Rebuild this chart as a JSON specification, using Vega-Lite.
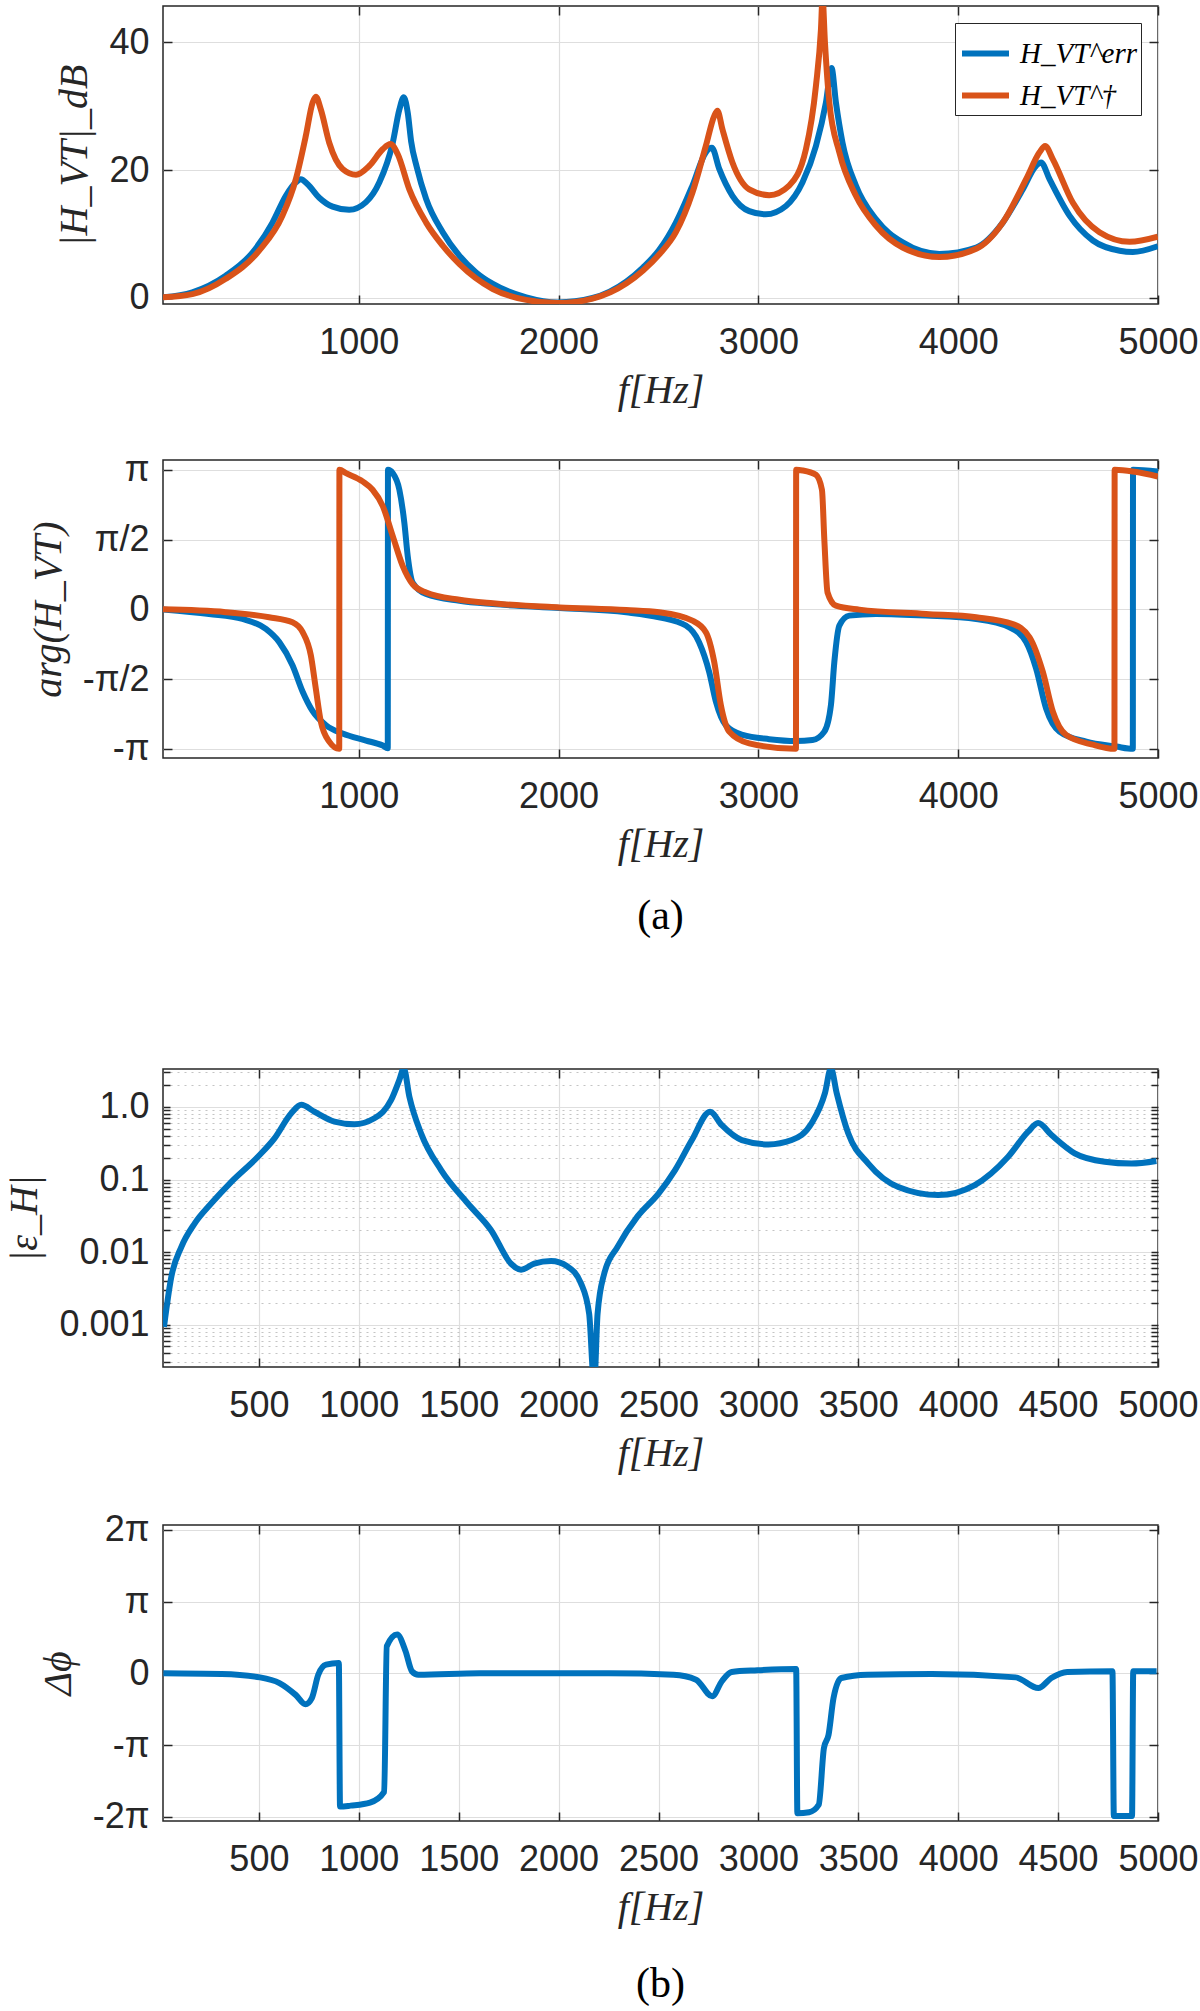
{
  "$schema": "https://vega.github.io/schema/vega-lite/v6.json",
  "background": "white",
  "padding": {"left": 4, "top": 4, "right": 0, "bottom": 0},
  "config": {
    "view": {"stroke": "#262626", "strokeWidth": 1.5},
    "axis": {
      "labelFont": "Liberation Sans",
      "labelFontSize": 36,
      "labelColor": "#262626",
      "labelOverlap": false,
      "labelFlush": false,
      "titleFont": "Liberation Serif",
      "titleFontStyle": "italic",
      "titleFontWeight": "normal",
      "titleFontSize": 40,
      "titleColor": "#262626",
      "gridColor": "#dedede",
      "gridWidth": 1.2,
      "domain": false,
      "tickColor": "#262626",
      "tickWidth": 1.5,
      "tickSize": -9
    },
    "axisX": {"labelPadding": 30, "titlePadding": 10, "format": "d"},
    "axisY": {"labelPadding": 23, "titlePadding": 14},
    "line": {"strokeWidth": 6, "interpolate": "monotone"},
    "legend": {
      "orient": "top-right",
      "offset": 17,
      "padding": 4,
      "strokeColor": "#262626",
      "fillColor": "white",
      "labelFont": "Liberation Serif",
      "labelFontStyle": "italic",
      "labelFontSize": 29,
      "labelColor": "#000000",
      "labelLimit": 300,
      "symbolType": "stroke",
      "symbolStrokeWidth": 6,
      "symbolSize": 2209,
      "rowPadding": 0,
      "labelOffset": 8
    },
    "title": {"font": "Liberation Serif", "fontSize": 42, "fontWeight": "normal", "color": "#000000"}
  },
  "datasets": {
    "mag": [
      {"f": 17, "series": "H_VT^err", "value": 0.1},
      {"f": 167, "series": "H_VT^err", "value": 0.9},
      {"f": 334, "series": "H_VT^err", "value": 3.5},
      {"f": 468, "series": "H_VT^err", "value": 7.1},
      {"f": 568, "series": "H_VT^err", "value": 11.8},
      {"f": 635, "series": "H_VT^err", "value": 16.0},
      {"f": 685, "series": "H_VT^err", "value": 18.1},
      {"f": 710, "series": "H_VT^err", "value": 18.6},
      {"f": 744, "series": "H_VT^err", "value": 17.8},
      {"f": 802, "series": "H_VT^err", "value": 15.7},
      {"f": 869, "series": "H_VT^err", "value": 14.3},
      {"f": 952, "series": "H_VT^err", "value": 13.8},
      {"f": 1036, "series": "H_VT^err", "value": 15.0},
      {"f": 1103, "series": "H_VT^err", "value": 18.1},
      {"f": 1170, "series": "H_VT^err", "value": 24.3},
      {"f": 1203, "series": "H_VT^err", "value": 29.5},
      {"f": 1225, "series": "H_VT^err", "value": 31.4},
      {"f": 1245, "series": "H_VT^err", "value": 29.0},
      {"f": 1262, "series": "H_VT^err", "value": 24.5},
      {"f": 1290, "series": "H_VT^err", "value": 20.5},
      {"f": 1337, "series": "H_VT^err", "value": 15.5},
      {"f": 1420, "series": "H_VT^err", "value": 10.3},
      {"f": 1504, "series": "H_VT^err", "value": 6.6},
      {"f": 1587, "series": "H_VT^err", "value": 4.0},
      {"f": 1671, "series": "H_VT^err", "value": 2.2},
      {"f": 1838, "series": "H_VT^err", "value": 0.1},
      {"f": 1995, "series": "H_VT^err", "value": -0.7},
      {"f": 2170, "series": "H_VT^err", "value": 0.0},
      {"f": 2340, "series": "H_VT^err", "value": 2.6},
      {"f": 2423, "series": "H_VT^err", "value": 4.8},
      {"f": 2503, "series": "H_VT^err", "value": 7.5},
      {"f": 2587, "series": "H_VT^err", "value": 11.8},
      {"f": 2670, "series": "H_VT^err", "value": 17.6},
      {"f": 2737, "series": "H_VT^err", "value": 22.8},
      {"f": 2767, "series": "H_VT^err", "value": 23.5},
      {"f": 2804, "series": "H_VT^err", "value": 20.2},
      {"f": 2870, "series": "H_VT^err", "value": 16.0},
      {"f": 2954, "series": "H_VT^err", "value": 13.6},
      {"f": 3037, "series": "H_VT^err", "value": 13.1},
      {"f": 3138, "series": "H_VT^err", "value": 14.4},
      {"f": 3221, "series": "H_VT^err", "value": 18.1},
      {"f": 3288, "series": "H_VT^err", "value": 23.8},
      {"f": 3338, "series": "H_VT^err", "value": 30.6},
      {"f": 3366, "series": "H_VT^err", "value": 36.0},
      {"f": 3388, "series": "H_VT^err", "value": 30.6},
      {"f": 3421, "series": "H_VT^err", "value": 24.3},
      {"f": 3488, "series": "H_VT^err", "value": 17.6},
      {"f": 3589, "series": "H_VT^err", "value": 12.3},
      {"f": 3722, "series": "H_VT^err", "value": 8.7},
      {"f": 3906, "series": "H_VT^err", "value": 6.9},
      {"f": 4090, "series": "H_VT^err", "value": 7.9},
      {"f": 4223, "series": "H_VT^err", "value": 11.8},
      {"f": 4323, "series": "H_VT^err", "value": 17.0},
      {"f": 4390, "series": "H_VT^err", "value": 20.7},
      {"f": 4415, "series": "H_VT^err", "value": 21.2},
      {"f": 4457, "series": "H_VT^err", "value": 18.6},
      {"f": 4557, "series": "H_VT^err", "value": 12.9},
      {"f": 4674, "series": "H_VT^err", "value": 9.0},
      {"f": 4808, "series": "H_VT^err", "value": 7.4},
      {"f": 4874, "series": "H_VT^err", "value": 7.2},
      {"f": 4999, "series": "H_VT^err", "value": 8.1},
      {"f": 17, "series": "H_VT^†", "value": 0.1},
      {"f": 167, "series": "H_VT^†", "value": 0.6},
      {"f": 334, "series": "H_VT^†", "value": 3.0},
      {"f": 501, "series": "H_VT^†", "value": 7.4},
      {"f": 618, "series": "H_VT^†", "value": 12.9},
      {"f": 685, "series": "H_VT^†", "value": 18.6},
      {"f": 735, "series": "H_VT^†", "value": 25.4},
      {"f": 769, "series": "H_VT^†", "value": 30.6},
      {"f": 785, "series": "H_VT^†", "value": 31.5},
      {"f": 810, "series": "H_VT^†", "value": 29.5},
      {"f": 852, "series": "H_VT^†", "value": 24.3},
      {"f": 919, "series": "H_VT^†", "value": 20.2},
      {"f": 986, "series": "H_VT^†", "value": 19.3},
      {"f": 1053, "series": "H_VT^†", "value": 20.7},
      {"f": 1120, "series": "H_VT^†", "value": 23.3},
      {"f": 1158, "series": "H_VT^†", "value": 24.1},
      {"f": 1195, "series": "H_VT^†", "value": 22.5},
      {"f": 1253, "series": "H_VT^†", "value": 17.0},
      {"f": 1337, "series": "H_VT^†", "value": 11.8},
      {"f": 1420, "series": "H_VT^†", "value": 8.2},
      {"f": 1504, "series": "H_VT^†", "value": 5.3},
      {"f": 1671, "series": "H_VT^†", "value": 1.4},
      {"f": 1838, "series": "H_VT^†", "value": -0.3},
      {"f": 1997, "series": "H_VT^†", "value": -0.8},
      {"f": 2170, "series": "H_VT^†", "value": -0.1},
      {"f": 2340, "series": "H_VT^†", "value": 2.3},
      {"f": 2423, "series": "H_VT^†", "value": 4.3},
      {"f": 2503, "series": "H_VT^†", "value": 6.8},
      {"f": 2587, "series": "H_VT^†", "value": 10.3},
      {"f": 2670, "series": "H_VT^†", "value": 16.5},
      {"f": 2737, "series": "H_VT^†", "value": 23.8},
      {"f": 2779, "series": "H_VT^†", "value": 28.5},
      {"f": 2795, "series": "H_VT^†", "value": 29.3},
      {"f": 2820, "series": "H_VT^†", "value": 26.4},
      {"f": 2870, "series": "H_VT^†", "value": 21.2},
      {"f": 2954, "series": "H_VT^†", "value": 17.0},
      {"f": 3054, "series": "H_VT^†", "value": 16.1},
      {"f": 3154, "series": "H_VT^†", "value": 17.6},
      {"f": 3238, "series": "H_VT^†", "value": 23.3},
      {"f": 3288, "series": "H_VT^†", "value": 33.2},
      {"f": 3313, "series": "H_VT^†", "value": 42.0},
      {"f": 3321, "series": "H_VT^†", "value": 47.0},
      {"f": 3333, "series": "H_VT^†", "value": 40.0},
      {"f": 3355, "series": "H_VT^†", "value": 30.6},
      {"f": 3405, "series": "H_VT^†", "value": 22.8},
      {"f": 3488, "series": "H_VT^†", "value": 16.0},
      {"f": 3589, "series": "H_VT^†", "value": 11.3},
      {"f": 3722, "series": "H_VT^†", "value": 7.9},
      {"f": 3906, "series": "H_VT^†", "value": 6.4},
      {"f": 4090, "series": "H_VT^†", "value": 7.7},
      {"f": 4223, "series": "H_VT^†", "value": 11.8},
      {"f": 4340, "series": "H_VT^†", "value": 18.6},
      {"f": 4407, "series": "H_VT^†", "value": 22.8},
      {"f": 4435, "series": "H_VT^†", "value": 23.8},
      {"f": 4474, "series": "H_VT^†", "value": 21.7},
      {"f": 4574, "series": "H_VT^†", "value": 14.9},
      {"f": 4707, "series": "H_VT^†", "value": 10.3},
      {"f": 4858, "series": "H_VT^†", "value": 8.8},
      {"f": 4999, "series": "H_VT^†", "value": 9.6}
    ],
    "phase": [
      {"f": 17, "series": "H_VT^err", "value": 0},
      {"f": 251, "series": "H_VT^err", "value": -0.104},
      {"f": 418, "series": "H_VT^err", "value": -0.217},
      {"f": 535, "series": "H_VT^err", "value": -0.44},
      {"f": 602, "series": "H_VT^err", "value": -0.738},
      {"f": 668, "series": "H_VT^err", "value": -1.257},
      {"f": 719, "series": "H_VT^err", "value": -1.854},
      {"f": 769, "series": "H_VT^err", "value": -2.293},
      {"f": 836, "series": "H_VT^err", "value": -2.608},
      {"f": 919, "series": "H_VT^err", "value": -2.796},
      {"f": 1036, "series": "H_VT^err", "value": -2.953},
      {"f": 1120, "series": "H_VT^err", "value": -3.066},
      {"f": 1145, "series": "H_VT^err", "value": -3.126},
      {"f": 1146, "series": "H_VT^err", "value": 3.14},
      {"f": 1170, "series": "H_VT^err", "value": 3.066},
      {"f": 1203, "series": "H_VT^err", "value": 2.692},
      {"f": 1228, "series": "H_VT^err", "value": 1.948},
      {"f": 1245, "series": "H_VT^err", "value": 1.194},
      {"f": 1270, "series": "H_VT^err", "value": 0.597},
      {"f": 1337, "series": "H_VT^err", "value": 0.346},
      {"f": 1504, "series": "H_VT^err", "value": 0.195},
      {"f": 1671, "series": "H_VT^err", "value": 0.119},
      {"f": 2005, "series": "H_VT^err", "value": 0.031},
      {"f": 2339, "series": "H_VT^err", "value": -0.066},
      {"f": 2503, "series": "H_VT^err", "value": -0.179},
      {"f": 2637, "series": "H_VT^err", "value": -0.364},
      {"f": 2703, "series": "H_VT^err", "value": -0.738},
      {"f": 2754, "series": "H_VT^err", "value": -1.414},
      {"f": 2787, "series": "H_VT^err", "value": -2.073},
      {"f": 2837, "series": "H_VT^err", "value": -2.608},
      {"f": 2921, "series": "H_VT^err", "value": -2.827},
      {"f": 3054, "series": "H_VT^err", "value": -2.922},
      {"f": 3188, "series": "H_VT^err", "value": -2.963},
      {"f": 3271, "series": "H_VT^err", "value": -2.941},
      {"f": 3330, "series": "H_VT^err", "value": -2.752},
      {"f": 3363, "series": "H_VT^err", "value": -2.155},
      {"f": 3380, "series": "H_VT^err", "value": -1.188},
      {"f": 3405, "series": "H_VT^err", "value": -0.364},
      {"f": 3455, "series": "H_VT^err", "value": -0.141},
      {"f": 3589, "series": "H_VT^err", "value": -0.104},
      {"f": 3839, "series": "H_VT^err", "value": -0.141},
      {"f": 4090, "series": "H_VT^err", "value": -0.217},
      {"f": 4257, "series": "H_VT^err", "value": -0.402},
      {"f": 4340, "series": "H_VT^err", "value": -0.738},
      {"f": 4390, "series": "H_VT^err", "value": -1.335},
      {"f": 4440, "series": "H_VT^err", "value": -2.231},
      {"f": 4507, "series": "H_VT^err", "value": -2.752},
      {"f": 4641, "series": "H_VT^err", "value": -2.978},
      {"f": 4791, "series": "H_VT^err", "value": -3.088},
      {"f": 4874, "series": "H_VT^err", "value": -3.14},
      {"f": 4875, "series": "H_VT^err", "value": 3.14},
      {"f": 4999, "series": "H_VT^err", "value": 3.104},
      {"f": 17, "series": "H_VT^†", "value": 0},
      {"f": 334, "series": "H_VT^†", "value": -0.063},
      {"f": 551, "series": "H_VT^†", "value": -0.179},
      {"f": 668, "series": "H_VT^†", "value": -0.292},
      {"f": 719, "series": "H_VT^†", "value": -0.515},
      {"f": 760, "series": "H_VT^†", "value": -1.037},
      {"f": 785, "series": "H_VT^†", "value": -1.791},
      {"f": 810, "series": "H_VT^†", "value": -2.529},
      {"f": 852, "series": "H_VT^†", "value": -2.978},
      {"f": 902, "series": "H_VT^†", "value": -3.14},
      {"f": 903, "series": "H_VT^†", "value": 3.14},
      {"f": 936, "series": "H_VT^†", "value": 3.066},
      {"f": 1019, "series": "H_VT^†", "value": 2.881},
      {"f": 1069, "series": "H_VT^†", "value": 2.692},
      {"f": 1120, "series": "H_VT^†", "value": 2.325},
      {"f": 1170, "series": "H_VT^†", "value": 1.649},
      {"f": 1220, "series": "H_VT^†", "value": 0.974},
      {"f": 1270, "series": "H_VT^†", "value": 0.565},
      {"f": 1337, "series": "H_VT^†", "value": 0.38},
      {"f": 1504, "series": "H_VT^†", "value": 0.217},
      {"f": 1671, "series": "H_VT^†", "value": 0.135},
      {"f": 2005, "series": "H_VT^†", "value": 0.044},
      {"f": 2339, "series": "H_VT^†", "value": -0.016},
      {"f": 2503, "series": "H_VT^†", "value": -0.066},
      {"f": 2670, "series": "H_VT^†", "value": -0.254},
      {"f": 2737, "series": "H_VT^†", "value": -0.515},
      {"f": 2779, "series": "H_VT^†", "value": -1.188},
      {"f": 2812, "series": "H_VT^†", "value": -2.155},
      {"f": 2854, "series": "H_VT^†", "value": -2.752},
      {"f": 2954, "series": "H_VT^†", "value": -3.016},
      {"f": 3188, "series": "H_VT^†", "value": -3.14},
      {"f": 3189, "series": "H_VT^†", "value": 3.14},
      {"f": 3221, "series": "H_VT^†", "value": 3.126},
      {"f": 3288, "series": "H_VT^†", "value": 3.028},
      {"f": 3318, "series": "H_VT^†", "value": 2.692},
      {"f": 3330, "series": "H_VT^†", "value": 1.571},
      {"f": 3346, "series": "H_VT^†", "value": 0.38},
      {"f": 3388, "series": "H_VT^†", "value": 0.082},
      {"f": 3505, "series": "H_VT^†", "value": -0.006},
      {"f": 3839, "series": "H_VT^†", "value": -0.104},
      {"f": 4090, "series": "H_VT^†", "value": -0.179},
      {"f": 4273, "series": "H_VT^†", "value": -0.33},
      {"f": 4357, "series": "H_VT^†", "value": -0.628},
      {"f": 4424, "series": "H_VT^†", "value": -1.414},
      {"f": 4474, "series": "H_VT^†", "value": -2.306},
      {"f": 4540, "series": "H_VT^†", "value": -2.827},
      {"f": 4674, "series": "H_VT^†", "value": -3.047},
      {"f": 4782, "series": "H_VT^†", "value": -3.14},
      {"f": 4783, "series": "H_VT^†", "value": 3.14},
      {"f": 4999, "series": "H_VT^†", "value": 2.991}
    ],
    "eps": [
      {"f": 25, "value": 0.00093},
      {"f": 62, "value": 0.0046},
      {"f": 112, "value": 0.0118},
      {"f": 178, "value": 0.0247},
      {"f": 262, "value": 0.047},
      {"f": 362, "value": 0.093},
      {"f": 495, "value": 0.206},
      {"f": 578, "value": 0.369},
      {"f": 662, "value": 0.82},
      {"f": 712, "value": 1.07},
      {"f": 778, "value": 0.86},
      {"f": 878, "value": 0.63},
      {"f": 978, "value": 0.58},
      {"f": 1078, "value": 0.7},
      {"f": 1162, "value": 1.25},
      {"f": 1203, "value": 2.36},
      {"f": 1225, "value": 3.4},
      {"f": 1253, "value": 1.39},
      {"f": 1312, "value": 0.43},
      {"f": 1412, "value": 0.135},
      {"f": 1545, "value": 0.047},
      {"f": 1662, "value": 0.02},
      {"f": 1762, "value": 0.0069},
      {"f": 1812, "value": 0.0057},
      {"f": 1878, "value": 0.0069},
      {"f": 1962, "value": 0.0075},
      {"f": 2045, "value": 0.0063},
      {"f": 2112, "value": 0.0037},
      {"f": 2153, "value": 0.0014},
      {"f": 2178, "value": 0.00015},
      {"f": 2195, "value": 0.0014},
      {"f": 2228, "value": 0.005},
      {"f": 2295, "value": 0.0118},
      {"f": 2395, "value": 0.031},
      {"f": 2500, "value": 0.064},
      {"f": 2583, "value": 0.135},
      {"f": 2667, "value": 0.35},
      {"f": 2758, "value": 0.86},
      {"f": 2817, "value": 0.56},
      {"f": 2917, "value": 0.35},
      {"f": 3050, "value": 0.305},
      {"f": 3167, "value": 0.35},
      {"f": 3267, "value": 0.6},
      {"f": 3333, "value": 1.55},
      {"f": 3363, "value": 3.4},
      {"f": 3392, "value": 1.55},
      {"f": 3450, "value": 0.43},
      {"f": 3550, "value": 0.166},
      {"f": 3700, "value": 0.079},
      {"f": 3900, "value": 0.061},
      {"f": 4083, "value": 0.084},
      {"f": 4250, "value": 0.206},
      {"f": 4350, "value": 0.457},
      {"f": 4400, "value": 0.6},
      {"f": 4467, "value": 0.41},
      {"f": 4583, "value": 0.23},
      {"f": 4733, "value": 0.176},
      {"f": 4867, "value": 0.166},
      {"f": 4992, "value": 0.18}
    ],
    "dphi": [
      {"f": 22, "value": 0},
      {"f": 313, "value": -0.031},
      {"f": 506, "value": -0.176},
      {"f": 603, "value": -0.424},
      {"f": 684, "value": -0.942},
      {"f": 733, "value": -1.351},
      {"f": 765, "value": -1.081},
      {"f": 797, "value": -0.063},
      {"f": 836, "value": 0.377},
      {"f": 900, "value": 0.452},
      {"f": 906, "value": -5.831},
      {"f": 959, "value": -5.787},
      {"f": 1056, "value": -5.655},
      {"f": 1127, "value": -5.184},
      {"f": 1140, "value": 1.184},
      {"f": 1192, "value": 1.696},
      {"f": 1234, "value": 0.964},
      {"f": 1266, "value": 0.088},
      {"f": 1298, "value": -0.06},
      {"f": 1605, "value": 0},
      {"f": 2252, "value": 0},
      {"f": 2575, "value": -0.06},
      {"f": 2688, "value": -0.276},
      {"f": 2769, "value": -1.005},
      {"f": 2817, "value": -0.346},
      {"f": 2866, "value": 0.06},
      {"f": 2995, "value": 0.132},
      {"f": 3189, "value": 0.188},
      {"f": 3195, "value": -6.126},
      {"f": 3254, "value": -6.079},
      {"f": 3302, "value": -5.749},
      {"f": 3328, "value": -3.267},
      {"f": 3351, "value": -2.689},
      {"f": 3376, "value": -1.081},
      {"f": 3415, "value": -0.204},
      {"f": 3545, "value": -0.06},
      {"f": 3868, "value": -0.031},
      {"f": 4288, "value": -0.176},
      {"f": 4401, "value": -0.644},
      {"f": 4466, "value": -0.204},
      {"f": 4546, "value": 0.06},
      {"f": 4772, "value": 0.088},
      {"f": 4779, "value": -6.239},
      {"f": 4870, "value": -6.239},
      {"f": 4876, "value": 0.088},
      {"f": 4993, "value": 0.088}
    ]
  },
  "spacing": 115,
  "vconcat": [
    {
      "spacing": 40,
      "vconcat": [
        {
          "width": 995,
          "height": 298,
          "data": {"name": "mag"},
          "layer": [
            {
              "mark": {"type": "line", "clip": true},
              "encoding": {
                "x": {"field": "f", "type": "quantitative", "scale": {"domain": [20, 5000], "nice": false, "zero": false},
                  "axis": {"values": [1000, 2000, 3000, 4000, 5000], "title": "f[Hz]"}},
                "y": {"field": "value", "type": "quantitative", "scale": {"domain": [-0.94, 45.7], "nice": false, "zero": false},
                  "axis": {"values": [0, 20, 40], "title": "|H_VT|_dB"}},
                "color": {"field": "series", "type": "nominal",
                  "scale": {"domain": ["H_VT^err", "H_VT^†"], "range": ["#0072BD", "#D95319"]},
                  "legend": {"title": null}}
              }
            },
            {
              "mark": {"type": "point", "opacity": 0, "clip": true},
              "encoding": {
                "x": {"field": "f", "type": "quantitative", "scale": {"domain": [20, 5000], "nice": false, "zero": false},
                  "axis": {"orient": "top", "values": [1000, 2000, 3000, 4000, 5000], "labels": false, "grid": false, "title": null}},
                "y": {"field": "value", "type": "quantitative", "scale": {"domain": [-0.94, 45.7], "nice": false, "zero": false},
                  "axis": {"orient": "right", "values": [0, 20, 40], "labels": false, "grid": false, "title": null}}
              }
            }
          ],
          "resolve": {"axis": {"x": "independent", "y": "independent"}}
        },
        {
          "width": 995,
          "height": 298,
          "data": {"name": "phase"},
          "title": {"text": "(a)", "orient": "bottom", "anchor": "middle", "frame": "group", "offset": 32},
          "layer": [
            {
              "mark": {"type": "line", "clip": true},
              "encoding": {
                "x": {"field": "f", "type": "quantitative", "scale": {"domain": [20, 5000], "nice": false, "zero": false},
                  "axis": {"values": [1000, 2000, 3000, 4000, 5000], "title": "f[Hz]"}},
                "y": {"field": "value", "type": "quantitative", "scale": {"domain": [-3.346, 3.362], "nice": false, "zero": false},
                  "axis": {"values": [-3.14159, -1.5708, 0, 1.5708, 3.14159], "title": "arg(H_VT)",
                    "labelExpr": "datum.value > 3 ? 'π' : datum.value > 1 ? 'π/2' : datum.value > -1 ? '0' : datum.value > -3 ? '-π/2' : '-π'"}},
                "color": {"field": "series", "type": "nominal",
                  "scale": {"domain": ["H_VT^err", "H_VT^†"], "range": ["#0072BD", "#D95319"]},
                  "legend": {"title": null}}
              }
            },
            {
              "mark": {"type": "point", "opacity": 0, "clip": true},
              "encoding": {
                "x": {"field": "f", "type": "quantitative", "scale": {"domain": [20, 5000], "nice": false, "zero": false},
                  "axis": {"orient": "top", "values": [1000, 2000, 3000, 4000, 5000], "labels": false, "grid": false, "title": null}},
                "y": {"field": "value", "type": "quantitative", "scale": {"domain": [-3.346, 3.362], "nice": false, "zero": false},
                  "axis": {"orient": "right", "values": [-3.14159, -1.5708, 0, 1.5708, 3.14159], "labels": false, "grid": false, "title": null}}
              }
            }
          ],
          "resolve": {"axis": {"x": "independent", "y": "independent"}}
        }
      ]
    },
    {
      "spacing": 36,
      "vconcat": [
        {
          "width": 995,
          "height": 298,
          "data": {"name": "eps"},
          "layer": [
            {
              "mark": {"type": "line", "color": "#0072BD", "clip": true},
              "encoding": {
                "x": {"field": "f", "type": "quantitative", "scale": {"domain": [20, 5000], "nice": false, "zero": false},
                  "axis": {"values": [500, 1000, 1500, 2000, 2500, 3000, 3500, 4000, 4500, 5000], "title": "f[Hz]"}},
                "y": {"field": "value", "type": "quantitative", "scale": {"type": "log", "domain": [0.00026, 3.34], "nice": false},
                  "axis": {
                    "values": [0.0003, 0.0004, 0.0005, 0.0006, 0.0007, 0.0008, 0.0009, 0.001, 0.002, 0.003, 0.004, 0.005, 0.006, 0.007, 0.008, 0.009, 0.01, 0.02, 0.03, 0.04, 0.05, 0.06, 0.07, 0.08, 0.09, 0.1, 0.2, 0.3, 0.4, 0.5, 0.6, 0.7, 0.8, 0.9, 1, 2, 3],
                    "title": "|ε_H|",
                    "tickSize": -7,
                    "labelPadding": 21,
                    "labelExpr": "datum.value == 1 ? '1.0' : datum.value == 0.1 ? '0.1' : datum.value == 0.01 ? '0.01' : datum.value == 0.001 ? '0.001' : ''",
                    "gridDash": {"condition": {"test": "datum.value == 1 || datum.value == 0.1 || datum.value == 0.01 || datum.value == 0.001", "value": []}, "value": [2, 5]},
                    "gridColor": {"condition": {"test": "datum.value == 1 || datum.value == 0.1 || datum.value == 0.01 || datum.value == 0.001", "value": "#dedede"}, "value": "#c4c4c4"}
                  }}
              }
            },
            {
              "mark": {"type": "point", "opacity": 0, "clip": true},
              "encoding": {
                "x": {"field": "f", "type": "quantitative", "scale": {"domain": [20, 5000], "nice": false, "zero": false},
                  "axis": {"orient": "top", "values": [500, 1000, 1500, 2000, 2500, 3000, 3500, 4000, 4500, 5000], "labels": false, "grid": false, "title": null}},
                "y": {"field": "value", "type": "quantitative", "scale": {"type": "log", "domain": [0.00026, 3.34], "nice": false},
                  "axis": {"orient": "right", "tickSize": -7, "values": [0.0003, 0.0004, 0.0005, 0.0006, 0.0007, 0.0008, 0.0009, 0.001, 0.002, 0.003, 0.004, 0.005, 0.006, 0.007, 0.008, 0.009, 0.01, 0.02, 0.03, 0.04, 0.05, 0.06, 0.07, 0.08, 0.09, 0.1, 0.2, 0.3, 0.4, 0.5, 0.6, 0.7, 0.8, 0.9, 1, 2, 3], "labels": false, "grid": false, "title": null}}
              }
            }
          ],
          "resolve": {"axis": {"x": "independent", "y": "independent"}}
        },
        {
          "width": 995,
          "height": 296,
          "data": {"name": "dphi"},
          "title": {"text": "(b)", "orient": "bottom", "anchor": "middle", "frame": "group", "offset": 37},
          "layer": [
            {
              "mark": {"type": "line", "color": "#0072BD", "clip": true},
              "encoding": {
                "x": {"field": "f", "type": "quantitative", "scale": {"domain": [20, 5000], "nice": false, "zero": false},
                  "axis": {"values": [500, 1000, 1500, 2000, 2500, 3000, 3500, 4000, 4500, 5000], "title": "f[Hz]"}},
                "y": {"field": "value", "type": "quantitative", "scale": {"domain": [-6.46, 6.49], "nice": false, "zero": false},
                  "axis": {"values": [-6.28319, -3.14159, 0, 3.14159, 6.28319], "title": "Δϕ",
                    "labelExpr": "datum.value > 5 ? '2π' : datum.value > 1 ? 'π' : datum.value > -1 ? '0' : datum.value > -5 ? '-π' : '-2π'"}}
              }
            },
            {
              "mark": {"type": "point", "opacity": 0, "clip": true},
              "encoding": {
                "x": {"field": "f", "type": "quantitative", "scale": {"domain": [20, 5000], "nice": false, "zero": false},
                  "axis": {"orient": "top", "values": [500, 1000, 1500, 2000, 2500, 3000, 3500, 4000, 4500, 5000], "labels": false, "grid": false, "title": null}},
                "y": {"field": "value", "type": "quantitative", "scale": {"domain": [-6.46, 6.49], "nice": false, "zero": false},
                  "axis": {"orient": "right", "values": [-6.28319, -3.14159, 0, 3.14159, 6.28319], "labels": false, "grid": false, "title": null}}
              }
            }
          ],
          "resolve": {"axis": {"x": "independent", "y": "independent"}}
        }
      ]
    }
  ]
}
